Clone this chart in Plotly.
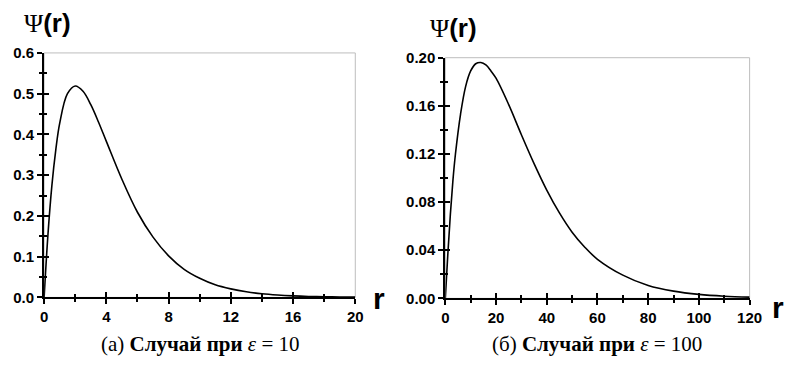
import plotly.graph_objects as go

# Radial wavefunction, case eps = 10
r_a = [0, 0.25, 0.5, 0.75, 1, 1.5, 2, 2.5, 3, 3.5, 4, 5, 6, 7, 8, 9, 10, 11, 12, 13, 14, 15, 16, 17, 18, 19, 20]
psi_a = [0.0, 0.156, 0.275, 0.362, 0.427, 0.500, 0.519, 0.506, 0.473, 0.430, 0.383, 0.290, 0.209,
         0.148, 0.102, 0.069, 0.047, 0.031, 0.021, 0.0138, 0.0090, 0.0059, 0.0038, 0.0024,
         0.0016, 0.0010, 0.0006]

# Radial wavefunction, case eps = 100
r_b = [0, 1, 2, 3, 4, 6, 8, 10, 12, 14, 16, 18, 20, 25, 30, 35, 40, 45, 50, 55, 60, 70, 80, 90, 100, 110, 120]
psi_b = [0.0, 0.037, 0.070, 0.098, 0.120, 0.153, 0.176, 0.189, 0.195, 0.196, 0.194, 0.189,
         0.183, 0.161, 0.136, 0.112, 0.090, 0.071, 0.055, 0.0425, 0.0325, 0.0193, 0.0107,
         0.0060, 0.0033, 0.0018, 0.0010]

x_ticks_a = [0, 4, 8, 12, 16, 20]
y_ticks_a = [0.0, 0.1, 0.2, 0.3, 0.4, 0.5, 0.6]
x_ticks_b = [0, 20, 40, 60, 80, 100, 120]
y_ticks_b = [0.00, 0.04, 0.08, 0.12, 0.16, 0.20]

captions = ["(а) <b>Случай при</b> <i>ε</i> = 10", "(б) <b>Случай при</b> <i>ε</i> = 100"]

W, H = 791, 378
tick_font = dict(family="Liberation Sans, Arial, sans-serif", size=15, color="black", weight="bold")

def px_x(a, b):
    return [a / W, b / W]

def px_y(top, bottom):
    return [(H - bottom) / H, (H - top) / H]

panels = [
    dict(r=r_a, psi=psi_a, xd=px_x(41, 359), yd=px_y(46, 302), xr=[0, 20], yr=[0, 0.6],
         xt=x_ticks_a, yt=y_ticks_a, xmin=2, ymin=0.05, yfmt="{:.1f}",
         psi_shift=(3, 13), r_shift=(16, -1)),
    dict(r=r_b, psi=psi_b, xd=px_x(451, 762), yd=px_y(51, 303), xr=[0, 120], yr=[0, 0.2],
         xt=x_ticks_b, yt=y_ticks_b, xmin=10, ymin=0.02, yfmt="{:.2f}",
         psi_shift=(8, 13), r_shift=(20, -9)),
]

MAJ, MIN = 5, 3

def tick_axis(p, key, side_ticks, labels):
    dmin = p["xmin"] if key == "x" else p["ymin"]
    vals = p[key + "t"]
    ax = dict(range=p[key + "r"], tickmode="array", tickvals=vals, ticks=side_ticks, ticklen=MAJ,
              tickwidth=2, tickcolor="black", showgrid=False, zeroline=False, fixedrange=True,
              minor=dict(dtick=dmin, ticks=side_ticks, ticklen=MIN, tickwidth=1.5,
                         tickcolor="black", showgrid=False))
    if labels:
        fmt = p["yfmt"] if key == "y" else "{:g}"
        ax.update(showline=True, linecolor="black", linewidth=2, tickfont=tick_font,
                  ticktext=["<b>" + fmt.format(v) + "</b>" for v in vals])
    else:
        ax.update(showline=False, showticklabels=False)
    return ax

fig = go.Figure()
layout = dict(width=W, height=H, margin=dict(l=0, r=0, t=0, b=0),
              paper_bgcolor="white", plot_bgcolor="white", showlegend=False)
shapes = []
annotations = []
for i, p in enumerate(panels):
    n = i + 1
    xs = "" if n == 1 else str(n)
    ov = str(n + 2)
    # the overlay pair carries a hidden copy of the curve so its tick marks get drawn
    fig.add_trace(go.Scatter(x=p["r"], y=p["psi"], mode="lines", line=dict(width=0),
                             hoverinfo="skip", xaxis="x" + ov, yaxis="y" + ov, showlegend=False))
    fig.add_trace(go.Scatter(x=p["r"], y=p["psi"], mode="lines",
                             line=dict(color="black", width=1.6, shape="spline"),
                             xaxis="x" + xs, yaxis="y" + xs, showlegend=False))
    # main axes: black line, outward half of each tick, labels
    xa = tick_axis(p, "x", "outside", True)
    xa.update(domain=p["xd"], anchor="y" + xs)
    ya = tick_axis(p, "y", "outside", True)
    ya.update(domain=p["yd"], anchor="x" + xs)
    # overlay axes: inward half of each tick
    xo = tick_axis(p, "x", "inside", False)
    xo.update(domain=p["xd"], anchor="y" + ov, overlaying="x" + xs, side="bottom")
    yo = tick_axis(p, "y", "inside", False)
    yo.update(domain=p["yd"], anchor="x" + ov, overlaying="y" + xs, side="left")
    layout["xaxis" + xs] = xa
    layout["yaxis" + xs] = ya
    layout["xaxis" + ov] = xo
    layout["yaxis" + ov] = yo
    # light frame on top and right
    shapes.append(dict(type="rect", xref="x" + xs + " domain", yref="y" + xs + " domain",
                       x0=0, x1=1, y0=0, y1=1, line=dict(color="#bdbdbd", width=1), layer="below"))
    # axis titles
    annotations.append(dict(text="<b>r</b>", xref="x" + xs + " domain", yref="y" + xs + " domain",
                            x=1, y=0, xanchor="left", yanchor="middle",
                            xshift=p["r_shift"][0], yshift=p["r_shift"][1], showarrow=False,
                            font=dict(family="Liberation Sans, Arial, sans-serif", size=30, color="black")))
    annotations.append(dict(text="<span style='font-family:Liberation Serif'>Ψ</span><b>(r)</b>",
                            xref="x" + xs + " domain", yref="y" + xs + " domain",
                            x=0, y=1, xanchor="center", yanchor="bottom",
                            xshift=p["psi_shift"][0], yshift=p["psi_shift"][1], showarrow=False,
                            font=dict(family="Liberation Sans, Arial, sans-serif", size=26, color="black")))
    # caption under each panel
    annotations.append(dict(text=captions[i], xref="paper", yref="paper",
                            x=(p["xd"][0] + p["xd"][1]) / 2, y=(H - 351) / H,
                            xanchor="center", yanchor="middle", showarrow=False,
                            font=dict(family="Liberation Serif, DejaVu Serif, serif", size=21, color="black")))

layout["shapes"] = shapes
layout["annotations"] = annotations
fig.update_layout(**layout)

fig.write_html("out.html")
